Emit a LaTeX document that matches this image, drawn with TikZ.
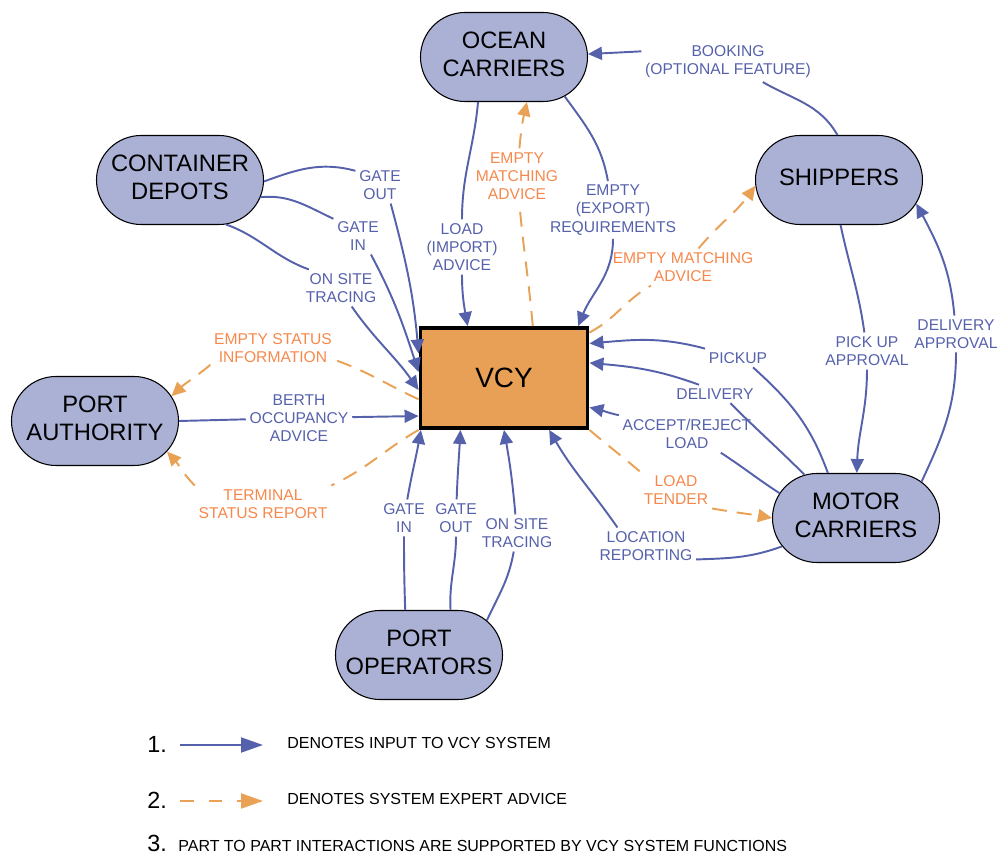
\documentclass[tikz,border=0pt]{standalone}
\usepackage{fontspec}
\setmainfont{Liberation Sans}
\usetikzlibrary{shapes.misc,arrows.meta}

\definecolor{partyfill}{RGB}{170,177,213}
\definecolor{coreorange}{RGB}{232,160,86}
\definecolor{inblue}{RGB}{86,97,171}
\definecolor{advorange}{RGB}{233,161,86}
\definecolor{advtext}{RGB}{246,136,76}

\newcommand{\partyname}[1]{\makebox[0pt]{\begin{tabular}{@{}c@{}}#1\end{tabular}}}

\tikzset{
  party/.style={rounded rectangle, draw=black, line width=0.6pt, fill=partyfill,
    minimum width=33.4mm, minimum height=17.8mm, inner sep=0pt,
    font=\fontsize{13.5}{16}\selectfont},
  core/.style={draw=black, line width=2.2pt, fill=coreorange,
    minimum width=33.4mm, minimum height=20mm, font=\fontsize{15.9}{19}\selectfont},
  inlbl/.style={text=inblue, align=center, inner sep=2pt, font=\fontsize{8.9}{10.4}\selectfont},
  advlbl/.style={inlbl, text=advtext},
  feed/.style={draw=inblue, line width=1.1pt},
  input/.style={feed, -{Triangle[length=2.8mm,width=2.6mm]}},
  advfeed/.style={draw=advorange, line width=1.1pt, dash pattern=on 3mm off 2mm},
  advice/.style={advfeed, -{Triangle[length=2.8mm,width=2.6mm]}},
  legnum/.style={inner sep=0pt, anchor=base west, font=\fontsize{13.3}{16}\selectfont},
  legtext/.style={inner sep=0pt, anchor=base west, font=\fontsize{9.1}{10.4}\selectfont},
  legtip/.style={-{Triangle[length=4.4mm,width=3mm]}},
}

\begin{document}
\begin{tikzpicture}[x=0.2mm, y=0.2mm]
\useasboundingbox (0,0) rectangle (998,-856);

% parties and the VCY core
\node[party] (ocean) at (504,-57) {\partyname{OCEAN\\CARRIERS}};
\node[party] (depots) at (180,-180) {\partyname{CONTAINER\\DEPOTS}};
\node[party] (shippers) at (839,-180) {\partyname{SHIPPERS}};
\node[party] (authority) at (95,-421) {\partyname{PORT\\AUTHORITY}};
\node[party] (motor) at (856,-518) {\partyname{MOTOR\\CARRIERS}};
\node[party] (operators) at (419,-655) {\partyname{PORT\\OPERATORS}};
\node[core] (vcy) at (504,-378) {VCY};

% ocean carriers
\node[inlbl] (booking) at (728,-62) {BOOKING\\(OPTIONAL FEATURE)};
\draw[feed] (shippers.92) to[out=120,in=-30] (booking);
\draw[input] (booking.173) -- (ocean.2);

\node[inlbl] (loadimp) at (462,-247) {LOAD\\(IMPORT)\\ADVICE};
\draw[feed] (ocean.240) to[out=-95,in=90] (loadimp);
\draw[input] (loadimp) to[out=-90,in=100] (vcy.125);

\node[inlbl] (emptyexp) at (613,-210) {EMPTY\\(EXPORT)\\REQUIREMENTS};
\draw[feed] (ocean.-33) to[out=-54,in=100] (emptyexp);
\draw[input] (emptyexp) to[out=-90,in=68] (vcy.35);

\node[advlbl] (ematchoc) at (517,-176) {EMPTY\\MATCHING\\ADVICE};
\draw[advfeed] (vcy.61) to[out=95,in=-85] (ematchoc);
\draw[advice] (ematchoc) to[out=85,in=-103] (ocean.-63);

\node[advlbl] (ematchsh) at (683,-267) {EMPTY MATCHING\\ADVICE};
\draw[advfeed] (vcy.28) to[out=28,in=-150] (ematchsh);
\draw[advice] (ematchsh) to[out=50,in=-126] (shippers.184);

% container depots
\node[inlbl] (gateoutd) at (380,-185) {GATE\\OUT};
\draw[feed] (depots.-1) to[out=20,in=165] (gateoutd.150);
\draw[input] (gateoutd.-60) to[out=-75,in=95] (vcy.164);

\node[inlbl] (gateind) at (358,-236) {GATE\\IN};
\draw[feed] (depots.-12) to[out=5,in=155] (gateind.145);
\draw[input] (gateind.-55) to[out=-62,in=108] (vcy.176);

\node[inlbl] (tracingd) at (341,-288) {ON SITE\\TRACING};
\draw[feed] (depots.-44) to[out=-20,in=160] (tracingd.150);
\draw[input] (tracingd.-60) to[out=-55,in=125] (vcy.188);

% port authority
\node[inlbl] (berth) at (299,-418) {BERTH\\OCCUPANCY\\ADVICE};
\draw[feed] (authority.east) -- (berth);
\draw[input] (berth) -- (vcy.204);

\node[advlbl] (emptystat) at (273,-348) {EMPTY STATUS\\INFORMATION};
\draw[advfeed] (vcy.194) to[out=155,in=-20] (emptystat.-11);
\draw[advice] (emptystat.195) to[out=220,in=43] (authority.18);

\node[advlbl] (termstat) at (263,-504) {TERMINAL\\STATUS REPORT};
\draw[advfeed] (vcy.south west) to[out=210,in=25] (termstat.north east);
\draw[advice] (termstat.north west) to[out=135,in=-48] (authority.-23);

% port operators
\node[inlbl] (gateinop) at (404,-518) {GATE\\IN};
\draw[feed] (operators.107) to[out=92,in=-90] (gateinop);
\draw[input] (gateinop) to[out=80,in=-100] (vcy.212);

\node[inlbl] (gateoutop) at (456,-518) {GATE\\OUT};
\draw[feed] (operators.55) to[out=93,in=-90] (gateoutop);
\draw[input] (gateoutop) to[out=88,in=-93] (vcy.230);

\node[inlbl] (tracingop) at (517,-533) {ON SITE\\TRACING};
\draw[feed] (operators.27) to[out=65,in=-100] (tracingop);
\draw[input] (tracingop) to[out=95,in=-80] (vcy.270);

% motor carriers
\node[inlbl] (location) at (646,-546) {LOCATION\\REPORTING};
\draw[feed] (motor.201) to[out=200,in=2] (location.-15);
\draw[input] (location.147) to[out=125,in=-60] (vcy.-49);

\node[inlbl] (acceptrej) at (687,-434) {ACCEPT/REJECT\\LOAD};
\draw[feed] (motor.162) to[out=147,in=-33] (acceptrej.-29);
\draw[input] (acceptrej.north west) to[out=167,in=-13] (vcy.-19);

\node[inlbl] (delivery) at (715,-394) {DELIVERY};
\draw[feed] (motor.140) to[out=135,in=-45] (delivery.-31);
\draw[input] (delivery.150) to[out=160,in=-5] (vcy.10);

\node[inlbl] (pickup) at (738,-358) {PICKUP};
\draw[feed] (motor.122) to[out=110,in=-42] (pickup.-32);
\draw[input] (pickup.north west) to[out=165,in=5] (vcy.22);

\node[advlbl] (tender) at (676,-490) {LOAD\\TENDER};
\draw[advfeed] (vcy.south east) to[out=-40,in=140] (tender.north west);
\draw[advice] (tender.south east) to[out=-10,in=170] (motor.west);

% shippers
\node[inlbl] (pickappr) at (867,-351) {PICK UP\\APPROVAL};
\draw[feed] (shippers.-88) to[out=-78,in=98] (pickappr);
\draw[input] (pickappr) to[out=-90,in=88] (motor.89);

\node[inlbl] (delivappr) at (956,-334) {DELIVERY\\APPROVAL};
\draw[feed] (motor.29) to[out=65,in=-90] (delivappr);
\draw[input] (delivappr) to[out=95,in=-62] (shippers.-17);

% legend
\node[legnum] (num1) at (147,-753) {1.};
\coordinate (inbeg) at (180,-745);
\coordinate (inend) at (263,-745);
\draw[feed, legtip] (inbeg) -- (inend);
\node[legtext] (legin) at (287,-749) {DENOTES INPUT TO VCY SYSTEM};

\node[legnum] (num2) at (147,-809) {2.};
\coordinate (advbeg) at (180,-801);
\coordinate (advend) at (263,-801);
\draw[advfeed, dash pattern=on 2.7mm off 3mm, legtip] (advbeg) -- (advend);
\node[legtext] (legadv) at (287,-805) {DENOTES SYSTEM EXPERT ADVICE};

\node[legnum] (num3) at (147,-852) {3.};
\node[legtext] (legpart) at (178,-852) {PART TO PART INTERACTIONS ARE SUPPORTED BY VCY SYSTEM FUNCTIONS};
\end{tikzpicture}
\end{document}
